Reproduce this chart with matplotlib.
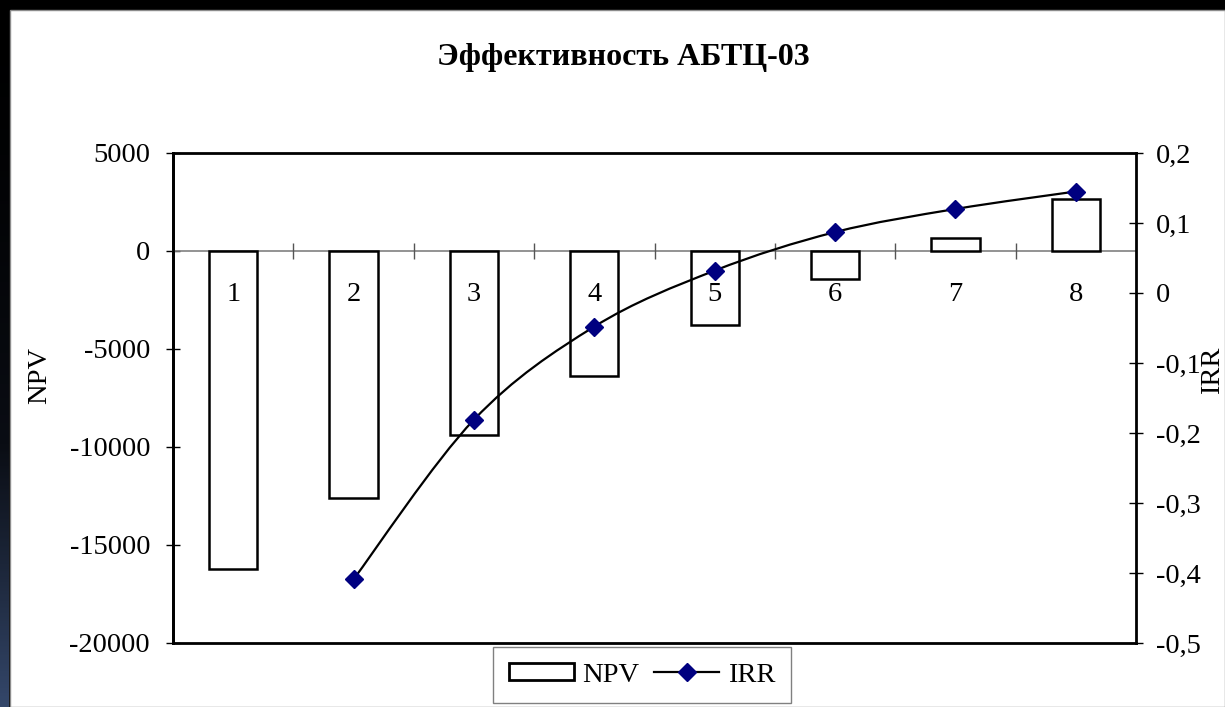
import numpy as np
import matplotlib
matplotlib.use("Agg")
import matplotlib.pyplot as plt
from matplotlib.patches import Rectangle, Patch, PathPatch
from matplotlib.lines import Line2D
from matplotlib.path import Path
from matplotlib.colors import LinearSegmentedColormap

plt.rcParams["font.family"] = ["Liberation Serif", "DejaVu Serif"]
plt.rcParams["axes.unicode_minus"] = False

# data
title = "Эффективность АБТЦ-03"
periods = [1, 2, 3, 4, 5, 6, 7, 8]
npv = [-16200, -12600, -9400, -6370, -3790, -1440, 650, 2650]
irr_periods = [2, 3, 4, 5, 6, 7, 8]
irr = [-0.409, -0.181, -0.048, 0.032, 0.087, 0.120, 0.145]

npv_ticks = [-20000, -15000, -10000, -5000, 0, 5000]
irr_ticks = [-0.5, -0.4, -0.3, -0.2, -0.1, 0.0, 0.1, 0.2]
irr_tick_labels = ["-0,5", "-0,4", "-0,3", "-0,2", "-0,1", "0", "0,1", "0,2"]

FS = 20.5

W, H = 1225, 707
fig = plt.figure(figsize=(W / 100, H / 100), dpi=100)
fig.patch.set_facecolor("black")

# white slide area + dark gradient strip on the left
fig.add_artist(Rectangle((10 / W, 0), 1 - 10 / W, 1 - 10 / H, transform=fig.transFigure,
                         facecolor="white", edgecolor="#8c8c8c", lw=1, zorder=0))
strip = fig.add_axes([0, 0, 9 / W, 1])
cmap = LinearSegmentedColormap.from_list("strip", ["#000000", "#0a0d14", "#34476a"])
strip.imshow(np.linspace(0, 1, 256).reshape(-1, 1) ** 1.5, cmap=cmap, aspect="auto")
strip.axis("off")

ax = fig.add_axes([173 / W, 1 - 643 / H, (1136 - 173) / W, (643 - 153) / H])
ax.patch.set_visible(False)

ax.bar(periods, npv, width=0.4, color="white", edgecolor="black", lw=1.8, zorder=2.6)
ax.set_xlim(0.5, 8.5)
ax.set_ylim(-20000, 5000)

for side in ["top", "right"]:
    ax.spines[side].set_visible(False)
ax.spines["left"].set_linewidth(2)
ax.spines["bottom"].set_position(("data", 0))
ax.spines["bottom"].set_color("#808080")
ax.spines["bottom"].set_linewidth(1.2)

ax.set_xticks(periods, [str(p) for p in periods])
ax.set_xticks(np.array(periods[:-1]) + 0.5, minor=True)
ax.tick_params(axis="x", which="major", length=0, pad=22, labelsize=FS)
ax.tick_params(axis="x", which="minor", direction="inout", length=11, width=1, color="#555555")
ax.xaxis.set_zorder(4)

ax.set_yticks(npv_ticks)
ax.tick_params(axis="y", direction="inout", length=10, width=1, pad=11.5, labelsize=FS)

ax2 = ax.twinx()
ax2.set_ylim(-0.5, 0.2)
ax2.set_yticks(irr_ticks, irr_tick_labels)
ax2.tick_params(axis="y", direction="inout", length=10, width=1, pad=9.5, labelsize=FS)
for side in ["top", "right", "bottom", "left"]:
    ax2.spines[side].set_linewidth(2)
    ax2.spines[side].set_color("black")

# smoothed line (Catmull-Rom style, like Excel smoothing)
pts = np.column_stack([np.array(irr_periods, float), np.array(irr)])
ext = np.vstack([pts[0], pts, pts[-1]])
verts = [pts[0]]
codes = [Path.MOVETO]
for i in range(len(pts) - 1):
    p0, p1, p2, p3 = ext[i], ext[i + 1], ext[i + 2], ext[i + 3]
    verts += [p1 + (p2 - p0) / 6, p2 - (p3 - p1) / 6, p2]
    codes += [Path.CURVE4] * 3
ax2.add_patch(PathPatch(Path(verts, codes), fill=False, edgecolor="black", lw=1.6, zorder=3))
ax2.plot(irr_periods, irr, ls="none", marker="D", ms=9, color="#000080", zorder=4)

handles = [
    Patch(facecolor="white", edgecolor="black", lw=2, label="NPV"),
    Line2D([], [], color="black", lw=1.6, marker="D", ms=9, mfc="#000080", mec="#000080", label="IRR"),
]
leg = fig.legend(handles=handles, loc="center", bbox_to_anchor=(642 / W, 1 - 675 / H), ncol=2,
                 frameon=True, fancybox=False, edgecolor="#808080", framealpha=1, fontsize=FS,
                 handlelength=2.3, handleheight=0.55, columnspacing=0.5, handletextpad=0.3,
                 borderpad=0.55, borderaxespad=0)
leg.get_frame().set_linewidth(1)

fig.text(40 / W, 1 - 375 / H, "NPV", rotation=90, ha="center", va="center", fontsize=FS)
fig.text(1213 / W, 1 - 370 / H, "IRR", rotation=90, ha="center", va="center", fontsize=FS)
fig.text(623 / W, 1 - 58 / H, title, ha="center", va="center", fontsize=23, fontweight="bold")

fig.savefig("out.png", dpi=100, facecolor=fig.get_facecolor())
